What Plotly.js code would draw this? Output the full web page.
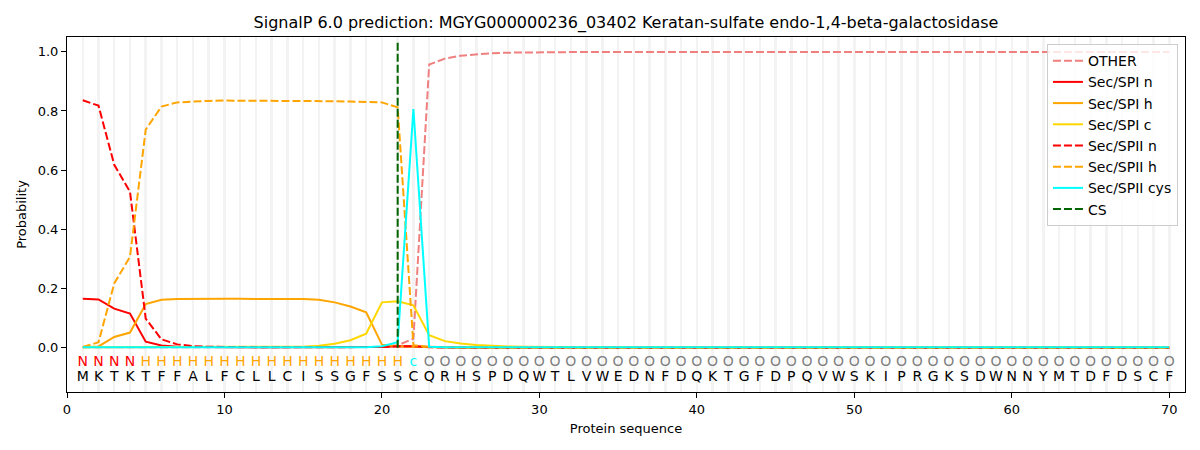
<!DOCTYPE html>
<html>
<head>
<meta charset="utf-8">
<script src="https://cdn.plot.ly/plotly-3.0.1.min.js"></script>
<style>html,body{margin:0;padding:0;background:#fff}#chart{width:1200px;height:450px}</style>
</head>
<body>
<div id="chart"></div>
<script>
const sequence = "MKTKTFFALFCLLCISSGFSSCQRHSPDQWTLVWEDNFDQKTGFDPQVWSKIPRGKSDWNNYMTDFDSCF".split("");
const regionLabels = ["N","N","N","N","H","H","H","H","H","H","H","H","H","H","H","H","H","H","H","H","H","c"].concat(Array(48).fill("O"));
const positions = sequence.map((_, i) => i + 1);

const other = [0.001,0.001,0.001,0.001,0.001,0.001,0.001,0.001,0.001,0.001,
  0.001,0.001,0.001,0.001,0.001,0.001,0.001,0.001,0.001,0.002,
  0.008,0.03,0.957,0.977,0.987,0.992,0.995,0.997,0.998,0.999,
  0.999,0.999,0.999,0.999,0.999,0.999,0.999,0.999,0.999,0.999,
  0.999,0.999,0.999,0.999,0.999,0.999,0.999,0.999,0.999,0.999,
  0.999,0.999,0.999,0.999,0.999,0.999,0.999,0.999,0.999,0.999,
  0.999,0.999,0.999,0.999,0.999,0.999,0.999,0.999,0.999,0.999];
const spiN = [0.165,0.163,0.132,0.115,0.02,0.007,0.003,0.002,0.001,0.001,
  0.001,0.001,0.001,0.001,0.001,0.001,0.001,0.001,0.001,0.002,
  0.005,0.004,0.001,0,0,0,0,0,0,0,
  0,0,0,0,0,0,0,0,0,0, 0,0,0,0,0,0,0,0,0,0,
  0,0,0,0,0,0,0,0,0,0, 0,0,0,0,0,0,0,0,0,0];
const spiH = [0.001,0.004,0.036,0.051,0.147,0.162,0.164,0.165,0.165,0.165,
  0.165,0.165,0.165,0.165,0.164,0.162,0.153,0.139,0.119,0.01,
  0.005,0.003,0.001,0.001,0,0,0,0,0,0,
  0,0,0,0,0,0,0,0,0,0, 0,0,0,0,0,0,0,0,0,0,
  0,0,0,0,0,0,0,0,0,0, 0,0,0,0,0,0,0,0,0,0];
const spiC = [0.001,0.001,0.001,0.001,0.001,0.001,0.001,0.001,0.001,0.001,
  0.001,0.001,0.001,0.001,0.003,0.006,0.013,0.025,0.047,0.153,
  0.157,0.143,0.042,0.022,0.014,0.009,0.006,0.004,0.003,0.002,
  0.001,0.001,0.001,0.001,0.001,0.001,0.001,0.001,0.001,0.001,
  0.001,0.001,0.001,0.001,0.001,0.001,0.001,0.001,0.001,0.001,
  0.001,0.001,0.001,0.001,0.001,0.001,0.001,0.001,0.001,0.001,
  0.001,0.001,0.001,0.001,0.001,0.001,0.001,0.001,0.001,0.001];
const spiiN = [0.836,0.818,0.618,0.527,0.098,0.028,0.011,0.005,0.003,0.002,
  0.001,0.001,0.001,0.001,0.001,0.001,0.001,0.001,0.001,0.002,
  0.005,0.005,0.001,0,0,0,0,0,0,0,
  0,0,0,0,0,0,0,0,0,0, 0,0,0,0,0,0,0,0,0,0,
  0,0,0,0,0,0,0,0,0,0, 0,0,0,0,0,0,0,0,0,0];
const spiiH = [0.002,0.018,0.217,0.307,0.737,0.815,0.829,0.832,0.834,0.835,
  0.835,0.835,0.835,0.835,0.835,0.834,0.833,0.832,0.831,0.829,
  0.812,0.008,0.002,0.001,0,0,0,0,0,0,
  0,0,0,0,0,0,0,0,0,0, 0,0,0,0,0,0,0,0,0,0,
  0,0,0,0,0,0,0,0,0,0, 0,0,0,0,0,0,0,0,0,0];
const spiiCys = [0.001,0.001,0.001,0.001,0.001,0.001,0.001,0.001,0.001,0.001,
  0.001,0.001,0.001,0.001,0.001,0.001,0.001,0.001,0.001,0.005,
  0.018,0.806,0.003,0.001,0.001,0.001,0.001,0.001,0.001,0.001,
  0.001,0.001,0.001,0.001,0.001,0.001,0.001,0.001,0.001,0.001,
  0.001,0.001,0.001,0.001,0.001,0.001,0.001,0.001,0.001,0.001,
  0.001,0.001,0.001,0.001,0.001,0.001,0.001,0.001,0.001,0.001,
  0.001,0.001,0.001,0.001,0.001,0.001,0.001,0.001,0.001,0.001];
const csPos = 21;
const csRange = [0, 1.04];

const labelColorMap = {N: "#ff0000", H: "#ffa500", c: "#00ffff", O: "#808080"};
const FONT = "DejaVu Sans, Liberation Sans, sans-serif";
const DASH = "8px,3px";

function line(name, y, color, dash) {
  return {x: positions, y: y, name: name, type: "scatter", mode: "lines",
    line: {color: color, width: 2, dash: dash || "solid"}, hoverinfo: "skip"};
}

const traces = [
  line("OTHER", other, "#f08080", DASH),
  line("Sec/SPI n", spiN, "#ff0000"),
  line("Sec/SPI h", spiH, "#ffa500"),
  line("Sec/SPI c", spiC, "#ffd700"),
  line("Sec/SPII n", spiiN, "#ff0000", DASH),
  line("Sec/SPII h", spiiH, "#ffa500", DASH),
  line("Sec/SPII cys", spiiCys, "#00ffff"),
  {x: [csPos, csPos], y: csRange, name: "CS", type: "scatter", mode: "lines",
    line: {color: "#006400", width: 2, dash: DASH}, hoverinfo: "skip"},
  {x: positions, y: positions.map(() => -0.05), text: regionLabels, mode: "text", type: "scatter",
    textfont: {family: FONT, size: 14, color: regionLabels.map(l => labelColorMap[l])},
    showlegend: false, hoverinfo: "skip", cliponaxis: false},
  {x: positions, y: positions.map(() => -0.1), text: sequence, mode: "text", type: "scatter",
    textfont: {family: FONT, size: 14, color: "#000000"},
    showlegend: false, hoverinfo: "skip", cliponaxis: false}
];

const layout = {
  width: 1200, height: 450,
  margin: {l: 67, r: 15, t: 37, b: 58},
  paper_bgcolor: "#ffffff", plot_bgcolor: "#ffffff",
  font: {family: FONT, size: 13, color: "#000"},
  title: {text: "SignalP 6.0 prediction: MGYG000000236_03402 Keratan-sulfate endo-1,4-beta-galactosidase",
    font: {family: FONT, size: 16, color: "#000"}, x: 0.5, xref: "paper", y: 0.951, yref: "container", yanchor: "middle"},
  xaxis: {range: [0, 71], tickvals: [0,10,20,30,40,50,60,70], ticks: "outside", ticklen: 5, tickcolor: "#000",
    showline: true, linecolor: "#000", linewidth: 1, mirror: true, zeroline: false,
    showgrid: false,
    minor: {dtick: 1, tick0: 0, showgrid: true, gridcolor: "#f3f3f3", gridwidth: 2.5, ticks: ""},
    title: {text: "Protein sequence", font: {family: FONT, size: 13}, standoff: 8},
    tickfont: {family: FONT, size: 13}},
  yaxis: {range: [-0.15, 1.05], tickvals: [0,0.2,0.4,0.6,0.8,1.0], tickformat: ".1f", ticks: "outside", ticklen: 5, tickcolor: "#000",
    showline: true, linecolor: "#000", linewidth: 1, mirror: true, zeroline: false, showgrid: false,
    title: {text: "Probability", font: {family: FONT, size: 13}, standoff: 8},
    tickfont: {family: FONT, size: 13}},
  legend: {x: 0.9937, xanchor: "right", y: 0.98, yanchor: "top", bgcolor: "rgba(255,255,255,0.8)",
    bordercolor: "#cccccc", borderwidth: 1, font: {family: FONT, size: 14}, tracegroupgap: 0},
  showlegend: true
};

Plotly.newPlot("chart", traces, layout, {staticPlot: true, displayModeBar: false});
</script>
</body>
</html>
